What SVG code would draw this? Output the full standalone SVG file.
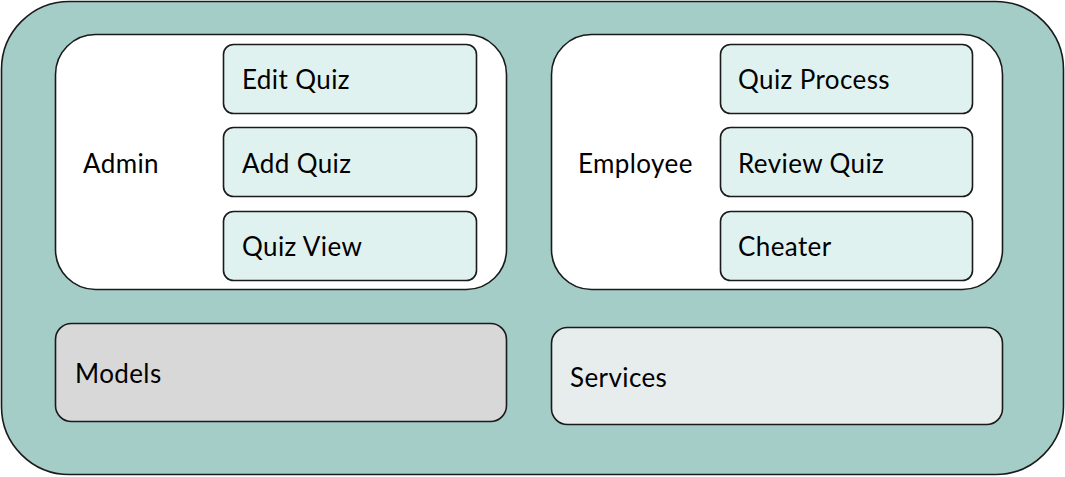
<svg xmlns="http://www.w3.org/2000/svg" width="1065" height="477" viewBox="0 0 1065 477">
<style>
text{font-family:Lato,"Liberation Sans",sans-serif;font-size:26px;letter-spacing:0.4px;fill:#000}
.box{stroke:#1a1a1a;stroke-width:1.6}
.item{fill:#e0f2f0}
</style>
<g id="system"><rect class="box" x="1.5" y="1.5" width="1062" height="473" rx="68" fill="#a4cdc8"/></g>
<g id="admin">
<rect class="box" x="55.5" y="34.5" width="451" height="255" rx="40" fill="#fff"/>
<text x="83" y="173">Admin</text>
</g>
<g id="edit-quiz"><rect class="box item" x="223.5" y="44.5" width="253" height="69" rx="10"/><text x="242" y="89">Edit Quiz</text></g>
<g id="add-quiz"><rect class="box item" x="223.5" y="127.5" width="253" height="69" rx="10"/><text x="242" y="173">Add Quiz</text></g>
<g id="quiz-view"><rect class="box item" x="223.5" y="211.5" width="253" height="69" rx="10"/><text x="242" y="256">Quiz View</text></g>
<g id="employee">
<rect class="box" x="551.5" y="34.5" width="451" height="255" rx="40" fill="#fff"/>
<text x="578" y="173">Employee</text>
</g>
<g id="quiz-process"><rect class="box item" x="720.5" y="44.5" width="252" height="69" rx="10"/><text x="738" y="89">Quiz Process</text></g>
<g id="review-quiz"><rect class="box item" x="720.5" y="127.5" width="252" height="69" rx="10"/><text x="738" y="173">Review Quiz</text></g>
<g id="cheater"><rect class="box item" x="720.5" y="211.5" width="252" height="69" rx="10"/><text x="738" y="256">Cheater</text></g>
<g id="models"><rect class="box" x="55.5" y="323.5" width="451" height="98" rx="16" fill="#d8d8d8"/><text x="75" y="383">Models</text></g>
<g id="services"><rect class="box" x="551.5" y="327.5" width="451" height="97" rx="16" fill="#e7ecec"/><text x="570" y="387">Services</text></g>
<g id="connectors"></g>
</svg>
